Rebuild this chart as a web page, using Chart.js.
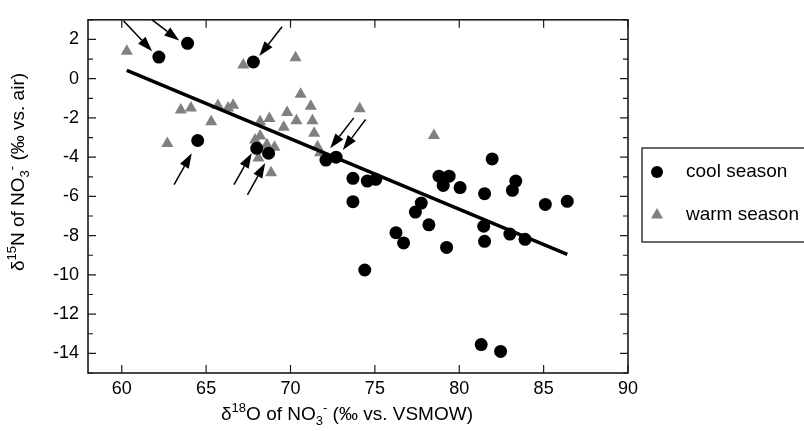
<!DOCTYPE html>
<html>
<head>
<meta charset="utf-8">
<script src="https://cdn.jsdelivr.net/npm/chart.js@4"></script>
<style>
body{margin:0;background:#fff;}
</style>
</head>
<body>
<canvas id="chart" width="804" height="431"></canvas>
<script>
// values
let coolX = [62.2,63.9,67.8,64.5,68.0,68.7,72.1,72.7,73.7,74.55,75.05,73.7,74.4,78.8,79.4,79.05,80.05,81.95,81.5,83.35,83.15,85.1,86.4,77.75,77.4,78.2,76.25,76.7,79.25,81.45,81.5,83.0,83.9,81.3,82.45];
let coolY = [1.1,1.8,0.85,-3.15,-3.55,-3.8,-4.15,-4.0,-5.08,-5.22,-5.13,-6.27,-9.75,-4.97,-4.97,-5.44,-5.55,-4.09,-5.86,-5.22,-5.69,-6.41,-6.25,-6.34,-6.8,-7.45,-7.85,-8.37,-8.6,-7.52,-8.29,-7.92,-8.19,-13.55,-13.9];

let warmX = [60.3,70.3,67.2,70.6,63.5,64.1,65.7,66.3,66.6,65.3,62.7,69.8,71.2,74.1,68.2,68.75,70.35,71.3,69.6,71.4,67.9,68.2,68.6,69.05,68.1,68.85,71.6,71.75,78.5];
let warmY = [1.4,1.07,0.7,-0.8,-1.6,-1.5,-1.37,-1.5,-1.35,-2.2,-3.3,-1.73,-1.41,-1.53,-2.2,-2.03,-2.15,-2.15,-2.47,-2.78,-3.12,-2.92,-3.37,-3.5,-4.04,-4.8,-3.47,-3.78,-2.9];

let fitX = [60.3, 86.4];
let fitY = [0.42, -8.95];

// arrows pointing at single samples
let arrowFromX = [60.1, 61.8, 69.5, 63.1, 66.65, 67.45, 73.75, 74.45];
let arrowFromY = [2.95, 3.0, 2.65, -5.4, -5.4, -5.92, -2.0, -2.08];
let arrowToX = [61.8, 63.4, 68.15, 64.15, 67.7, 68.5, 72.35, 73.1];
let arrowToY = [1.4, 1.94, 1.15, -3.8, -3.8, -4.3, -3.55, -3.63];

let xTickValues = [60,65,70,75,80,85,90];
let yTickValues = [-14,-12,-10,-8,-6,-4,-2,0,2];

const FONT = "Liberation Sans, Arial, Helvetica, sans-serif";

function pts(xs, ys){
return xs.map((x,i)=>({x:x, y:ys[i]}));
}

function drawRich(ctx, parts, cx, cy){
let w = 0;
parts.forEach(p=>{
ctx.font = (p.s=="n" ? "19px " : "13px ") + FONT;
p.w = ctx.measureText(p.t).width;
w += p.w;
});
let x = cx - w/2;
ctx.textBaseline = "middle";
ctx.textAlign = "left";
parts.forEach(p=>{
ctx.font = (p.s=="n" ? "19px " : "13px ") + FONT;
let dy = 0;
if(p.s=="sup") dy = -7;
if(p.s=="sub") dy = 6;
ctx.fillText(p.t, x, cy+dy);
x += p.w;
});
}

function arrow(ctx, x1, y1, x2, y2){
let ang = Math.atan2(y2-y1, x2-x1);
let hl = 15, hw = 5;
let bx = x2 - hl*Math.cos(ang), by = y2 - hl*Math.sin(ang);
ctx.beginPath();
ctx.moveTo(x1,y1);
ctx.lineTo(bx,by);
ctx.stroke();
ctx.beginPath();
ctx.moveTo(x2,y2);
ctx.lineTo(bx + hw*Math.sin(ang), by - hw*Math.cos(ang));
ctx.lineTo(bx - hw*Math.sin(ang), by + hw*Math.cos(ang));
ctx.closePath();
ctx.fill();
}

const framePlugin = {
id:"frame",
afterDatasetsDraw(chart){
let ctx = chart.ctx, a = chart.chartArea;
let xs = chart.scales.x, ys = chart.scales.y;
ctx.save();
ctx.strokeStyle = "#1a1a1a";
ctx.fillStyle = "#000";

// frame and inward ticks on all four sides
ctx.lineWidth = 1.6;
ctx.strokeRect(a.left, a.top, a.right-a.left, a.bottom-a.top);
ctx.lineWidth = 1.2;
ctx.beginPath();
xTickValues.forEach(v=>{
let px = xs.getPixelForValue(v);
ctx.moveTo(px, a.bottom); ctx.lineTo(px, a.bottom-8);
ctx.moveTo(px, a.top); ctx.lineTo(px, a.top+8);
});
for(let v=ys.min; v<=ys.max; v++){
let py = ys.getPixelForValue(v);
let len = (v%2==0) ? 8 : 5;
ctx.moveTo(a.left, py); ctx.lineTo(a.left+len, py);
ctx.moveTo(a.right, py); ctx.lineTo(a.right-len, py);
}
ctx.stroke();

// arrows
ctx.lineWidth = 1.5;
ctx.strokeStyle = "#000";
for(let i=0;i<arrowFromX.length;i++){
arrow(ctx, xs.getPixelForValue(arrowFromX[i]), ys.getPixelForValue(arrowFromY[i]),
xs.getPixelForValue(arrowToX[i]), ys.getPixelForValue(arrowToY[i]));
}

// axis titles
ctx.fillStyle = "#000";
drawRich(ctx, [{t:"\u03b4",s:"n"},{t:"18",s:"sup"},{t:"O of NO",s:"n"},{t:"3",s:"sub"},{t:"-",s:"sup"},{t:" (\u2030 vs. VSMOW)",s:"n"}],
347, 415);
ctx.save();
ctx.translate(19, 172);
ctx.rotate(-Math.PI/2);
drawRich(ctx, [{t:"\u03b4",s:"n"},{t:"15",s:"sup"},{t:"N of NO",s:"n"},{t:"3",s:"sub"},{t:"-",s:"sup"},{t:" (\u2030 vs. air)",s:"n"}], 0, 0);
ctx.restore();

// legend box
let lx = 642, ly = 148;
ctx.lineWidth = 1.3;
ctx.strokeStyle = "#1a1a1a";
ctx.strokeRect(lx, ly, 200, 94);
let items = [chart.data.datasets[0], chart.data.datasets[2]];
items.forEach((d,i)=>{
let cy = ly + 24 + i*43;
ctx.fillStyle = d.backgroundColor;
ctx.beginPath();
if(d.pointStyle=="circle"){
ctx.arc(lx+15, cy, 6, 0, Math.PI*2);
}else{
let r = 7;
ctx.moveTo(lx+15, cy-r);
ctx.lineTo(lx+15+r*0.866, cy+r*0.5);
ctx.lineTo(lx+15-r*0.866, cy+r*0.5);
ctx.closePath();
}
ctx.fill();
ctx.fillStyle = "#000";
ctx.font = "19px " + FONT;
ctx.textBaseline = "middle";
ctx.textAlign = "left";
ctx.fillText(d.label, lx+44, cy);
});
ctx.restore();
}
};

new Chart(document.getElementById("chart"),{
type:"scatter",
data:{
datasets:[{
label:"cool season",
data:pts(coolX, coolY),
pointStyle:"circle",
pointRadius:6.5,
pointHoverRadius:6.5,
backgroundColor:"#000",
borderWidth:0,
order:0
},{
label:"fit",
type:"line",
data:pts(fitX, fitY),
showLine:true,
pointRadius:0,
borderColor:"#000",
borderWidth:3.5,
order:1
},{
label:"warm season",
data:pts(warmX, warmY),
pointStyle:"triangle",
pointRadius:7,
pointHoverRadius:7,
backgroundColor:"#808080",
borderWidth:0,
order:2
}]
},
options:{
responsive:false,
animation:false,
layout:{padding:{top:15, right:176, left:0, bottom:0}},
plugins:{legend:{display:false}, tooltip:{enabled:false}},
scales:{
x:{
type:"linear",
min:58, max:90,
afterBuildTicks:(s)=>{ s.ticks = xTickValues.map(v=>({value:v})); },
afterFit:(s)=>{ s.height = 58; },
grid:{display:false, drawTicks:false},
border:{display:false},
ticks:{color:"#000", padding:5, maxRotation:0, font:{family:FONT, size:18}}
},
y:{
type:"linear",
min:-15, max:3,
afterBuildTicks:(s)=>{ s.ticks = yTickValues.map(v=>({value:v})); },
afterFit:(s)=>{ s.width = 88; },
grid:{display:false, drawTicks:false},
border:{display:false},
ticks:{color:"#000", padding:9, font:{family:FONT, size:18}}
}
}
},
plugins:[framePlugin]
});
</script>
</body>
</html>
